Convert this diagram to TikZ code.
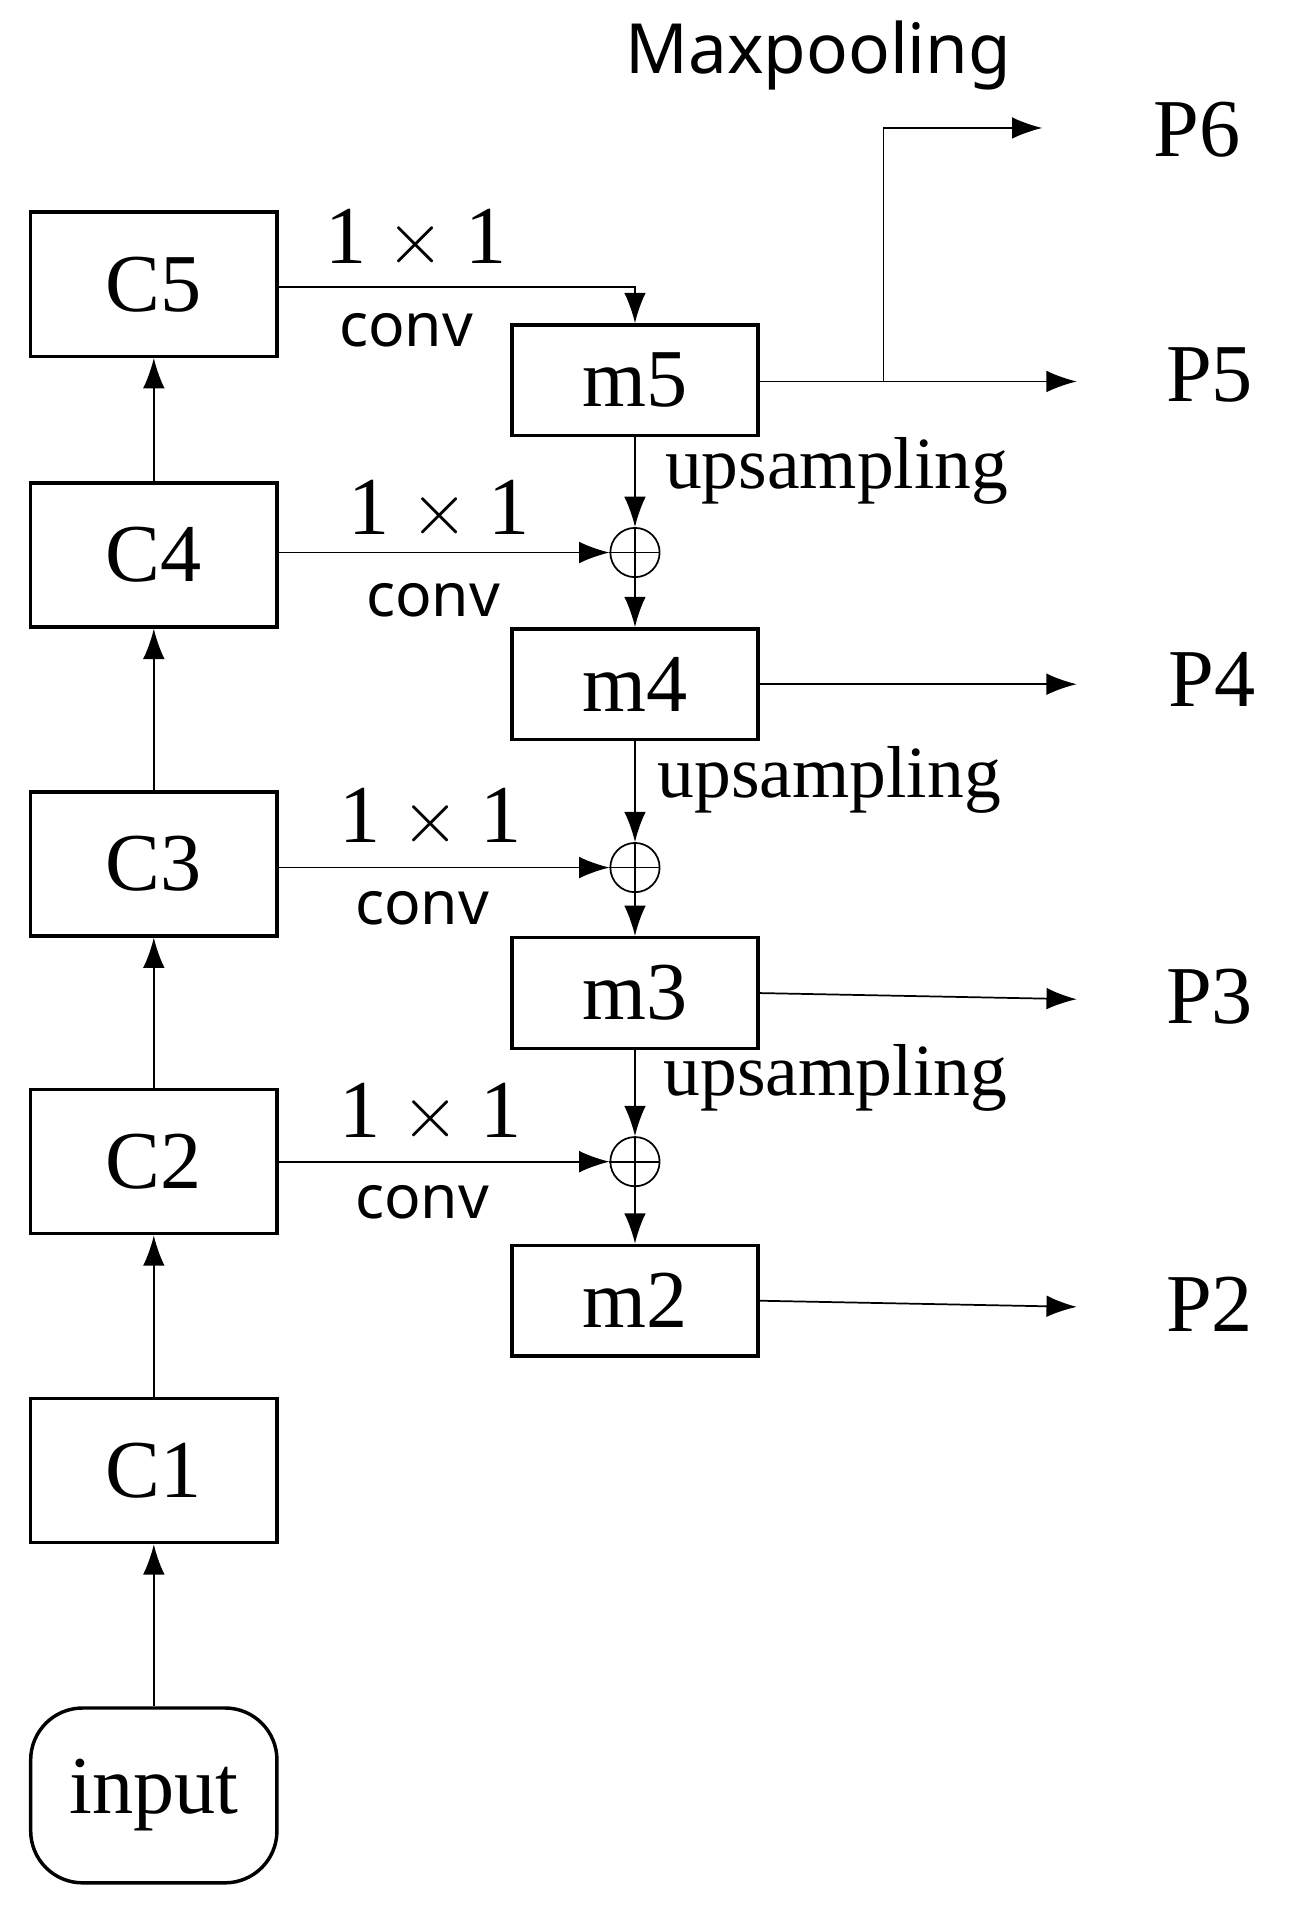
\documentclass[tikz,border=0pt]{standalone}
\usepackage{fontspec}
\setmainfont{Liberation Serif}
\newfontfamily\sansf{Noto Sans}
\usetikzlibrary{arrows.meta}
\begin{document}
\begin{tikzpicture}[x=0.01cm,y=-0.01cm,
 box/.style={draw,thick,minimum width=2cm,inner sep=0,font=\fontsize{19}{19}\selectfont},
 cbox/.style={box,minimum height=1.17cm},
 mbox/.style={box,minimum height=0.9cm},
 sum/.style={draw,circle,minimum size=0.4cm,inner sep=0},
 arr/.style={-{Latex[length=7pt,width=5pt]}},
 lab/.style={font=\fontsize{19}{19}\selectfont},
 cv/.style={font=\sansf\fontsize{14}{14}\selectfont},
 up/.style={font=\fontsize{17}{17}\selectfont,anchor=west}]
\useasboundingbox (0,0) rectangle (1050,1570);
\node[cbox] (c5) at (125,231) {C5};
\node[cbox] (c4) at (125,451) {C4};
\node[cbox] (c3) at (125,702) {C3};
\node[cbox] (c2) at (125,944) {C2};
\node[cbox] (c1) at (125,1195) {C1};
\node[box,minimum height=1.42cm,rounded corners=12pt] (in) at (125,1459) {input};
\node[mbox] (m5) at (516,309) {m5};
\node[mbox] (m4) at (516,556) {m4};
\node[mbox] (m3) at (516,807) {m3};
\node[mbox] (m2) at (516,1057) {m2};
\node[sum] (s4) at (516,449) {};
\node[sum] (s3) at (516,705) {};
\node[sum] (s2) at (516,944) {};
\foreach \s in {s4,s3,s2}{\draw (\s.north)--(\s.south) (\s.west)--(\s.east);}
\draw[arr] (in)--(c1); \draw[arr] (c1)--(c2); \draw[arr] (c2)--(c3);
\draw[arr] (c3)--(c4); \draw[arr] (c4)--(c5);
\draw[arr] (c5.east|-0,233) -| (m5.north);
\draw[arr] (c4.east|-s4) -- (s4);
\draw[arr] (c3.east|-s3) -- (s3);
\draw[arr] (c2.east|-s2) -- (s2);
\draw[arr] (m5)--(s4); \draw[arr] (s4)--(m4);
\draw[arr] (m4)--(s3); \draw[arr] (s3)--(m3);
\draw[arr] (m3)--(s2); \draw[arr] (s2)--(m2);
\node[lab] (p6) at (973,105) {P6};
\node[lab] (p5) at (983,305) {P5};
\node[lab] (p4) at (985,552) {P4};
\node[lab] (p3) at (983,810) {P3};
\node[lab] (p2) at (983,1060) {P2};
\coordinate (e5) at (875,310); \coordinate (br) at (718,310); \coordinate (e6) at (847,104);
\draw[arr] (m5.east|-e5) -- (e5);
\draw[arr] (br) |- (e6);
\draw[arr] (m4.east) -- (875,556);
\draw[arr] (m3.east) -- (875,812);
\draw[arr] (m2.east) -- (875,1062);
\node[font=\sansf\fontsize{16}{16}\selectfont] (mp) at (665,45) {Maxpooling};
\node[lab] (l5) at (338,195) {1 $\times$ 1}; \node[cv] (v5) at (330,268) {conv};
\node[lab] (l4) at (357,415) {1 $\times$ 1}; \node[cv] (v4) at (352,488) {conv};
\node[lab] (l3) at (350,665) {1 $\times$ 1}; \node[cv] (v3) at (343,738) {conv};
\node[lab] (l2) at (350,905) {1 $\times$ 1}; \node[cv] (v2) at (343,977) {conv};
\node[up] (u5) at (528,383) {upsampling};
\node[up] (u4) at (522,634) {upsampling};
\node[up] (u3) at (527,876) {upsampling};
\end{tikzpicture}
\end{document}
